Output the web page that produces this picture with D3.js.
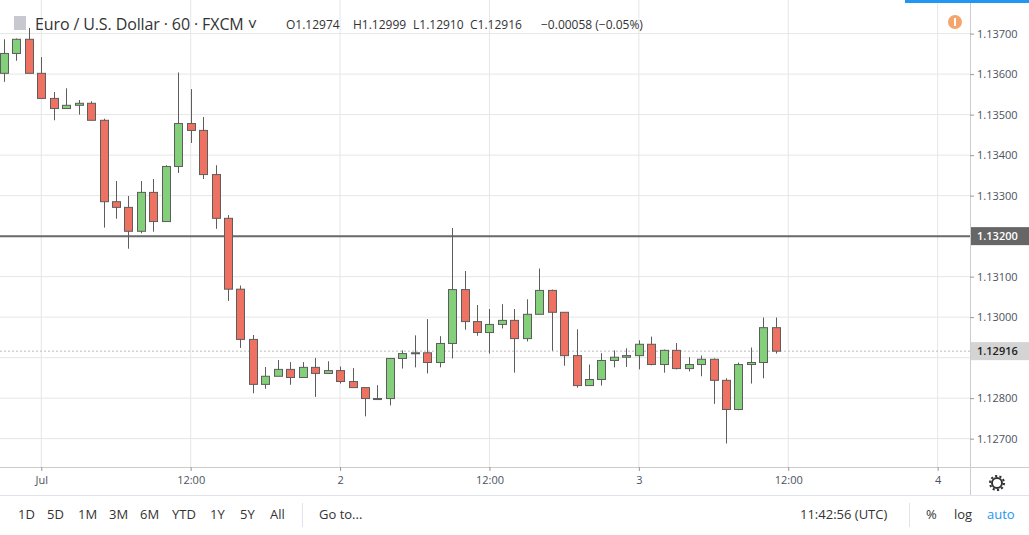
<!DOCTYPE html>
<html><head><meta charset="utf-8">
<script src="https://cdn.jsdelivr.net/npm/d3@7/dist/d3.min.js"></script>
<style>body{margin:0;background:#fff;font-family:"Open Sans",Roboto,sans-serif}</style>
</head><body><svg id="c" width="1029" height="535"></svg>
<script>
const hours = d3.range(-3, 60);
const opens  = [1.13602,1.13651,1.13686,1.13602,1.13540,1.13515,1.13523,1.13528,1.13486,1.13285,1.13271,1.13212,1.13308,1.13236,1.13372,1.13478,1.13461,1.13352,1.13244,1.13069,1.12945,1.12834,1.12854,1.12871,1.12851,1.12876,1.12861,1.12868,1.12841,1.12826,1.12799,1.12799,1.12898,1.12910,1.12912,1.12888,1.12935,1.13068,1.12989,1.12962,1.12982,1.12992,1.12947,1.13007,1.13066,1.13012,1.12905,1.12831,1.12846,1.12893,1.12901,1.12905,1.12933,1.12883,1.12918,1.12873,1.12883,1.12896,1.12844,1.12772,1.12883,1.12888,1.12974];
const highs  = [1.13686,1.13688,1.13714,1.13642,1.13556,1.13565,1.13536,1.13533,1.13490,1.13336,1.13299,1.13336,1.13341,1.13375,1.13604,1.13563,1.13494,1.13375,1.13252,1.13078,1.12956,1.12877,1.12894,1.12889,1.12889,1.12899,1.12891,1.12878,1.12874,1.12826,1.12832,1.12898,1.12918,1.12955,1.12995,1.12953,1.13220,1.13114,1.13030,1.13020,1.13032,1.13020,1.13044,1.13120,1.13068,1.13012,1.12970,1.12883,1.12911,1.12918,1.12923,1.12943,1.12952,1.12920,1.12936,1.12901,1.12905,1.12898,1.12849,1.12888,1.12925,1.12999,1.12999];
const lows   = [1.13581,1.13633,1.13602,1.13540,1.13486,1.13515,1.13500,1.13486,1.13221,1.13243,1.13169,1.13207,1.13211,1.13236,1.13356,1.13430,1.13341,1.13218,1.13040,1.12924,1.12812,1.12823,1.12854,1.12833,1.12851,1.12803,1.12861,1.12836,1.12826,1.12755,1.12797,1.12782,1.12873,1.12876,1.12861,1.12876,1.12898,1.12969,1.12954,1.12910,1.12972,1.12863,1.12940,1.13007,1.12917,1.12880,1.12826,1.12831,1.12831,1.12876,1.12877,1.12871,1.12881,1.12863,1.12871,1.12866,1.12854,1.12786,1.12688,1.12770,1.12836,1.12849,1.12910];
const closes = [1.13651,1.13686,1.13602,1.13540,1.13515,1.13523,1.13528,1.13486,1.13285,1.13271,1.13212,1.13308,1.13236,1.13372,1.13478,1.13461,1.13352,1.13244,1.13069,1.12945,1.12834,1.12854,1.12871,1.12851,1.12876,1.12861,1.12868,1.12841,1.12826,1.12799,1.12799,1.12898,1.12910,1.12912,1.12888,1.12935,1.13068,1.12989,1.12962,1.12982,1.12992,1.12947,1.13007,1.13066,1.13012,1.12905,1.12831,1.12846,1.12893,1.12901,1.12905,1.12933,1.12883,1.12918,1.12873,1.12883,1.12896,1.12844,1.12772,1.12883,1.12888,1.12974,1.12916];
const priceTicks = [1.127,1.128,1.129,1.130,1.131,1.132,1.133,1.134,1.135,1.136,1.137];
const timeTicks = [0,12,24,36,48,60,72];
const timeLabels = ["Jul","12:00","2","12:00","3","12:00","4"];
const levelLine = 1.132, lastPrice = 1.12916;
const periods = ["1D","5D","1M","3M","6M","YTD","1Y","5Y","All"];
const ohlc = ["O1.12974","H1.12999","L1.12910","C1.12916","−0.00058 (−0.05%)"];

const W=970,H=467;
const svg=d3.select("#c");
const x=d3.scaleLinear().domain([-3.315,74.6]).range([0,W]);
const y=d3.scaleLinear().domain([1.12630,1.13783]).range([H,0]);
const g=svg.append("g");
g.selectAll(".hg").data(priceTicks).join("line").attr("x1",0).attr("x2",W).attr("y1",d=>y(d)).attr("y2",d=>y(d)).attr("stroke","#e6e6e6");
g.selectAll(".vg").data(timeTicks).join("line").attr("y1",0).attr("y2",H).attr("x1",d=>x(d)).attr("x2",d=>x(d)).attr("stroke","#e6e6e6");
g.append("line").attr("x1",0).attr("x2",W).attr("y1",y(levelLine)).attr("y2",y(levelLine)).attr("stroke","#6a6a6a").attr("stroke-width",2);
g.append("line").attr("x1",0).attr("x2",W).attr("y1",y(lastPrice)).attr("y2",y(lastPrice)).attr("stroke","#bbb").attr("stroke-dasharray","2,2");
const data=hours.map((h,i)=>({h,o:opens[i],hi:highs[i],l:lows[i],c:closes[i]}));
const cg=g.selectAll(".cd").data(data).join("g");
cg.append("line").attr("x1",d=>Math.round(x(d.h))+0.5).attr("x2",d=>Math.round(x(d.h))+0.5).attr("y1",d=>y(d.hi)).attr("y2",d=>y(d.l)).attr("stroke","#5d5d5d");
cg.append("rect").attr("x",d=>Math.round(x(d.h))-3.5).attr("width",8)
 .attr("y",d=>y(Math.max(d.o,d.c))).attr("height",d=>Math.max(1,y(Math.min(d.o,d.c))-y(Math.max(d.o,d.c))))
 .attr("fill",d=>d.c>=d.o?"#84cf7a":"#ef7162").attr("stroke","#5d5d5d").attr("stroke-width",1);
svg.append("line").attr("x1",W+0.5).attr("x2",W+0.5).attr("y1",0).attr("y2",495).attr("stroke","#ccc");
svg.append("line").attr("x1",0).attr("x2",1029).attr("y1",H+0.5).attr("y2",H+0.5).attr("stroke","#ccc");
svg.append("line").attr("x1",0).attr("x2",1029).attr("y1",495.5).attr("y2",495.5).attr("stroke","#e0e3eb");
const ya=d3.axisRight(y).tickValues(priceTicks.filter(d=>Math.abs(d-1.132)>1e-6&&Math.abs(d-1.129)>1e-6)).tickFormat(d3.format(".5f")).tickSize(4);
const yg=svg.append("g").attr("transform",`translate(${W},0)`).call(ya);
yg.select(".domain").remove();
yg.selectAll("text").attr("font-size",11).attr("fill","#4c525e").attr("font-family","Open Sans");
yg.selectAll("line").attr("stroke","#999");
function tag(p,bg,fg){const yy=y(p);svg.append("rect").attr("x",W+1).attr("y",yy-9).attr("width",58).attr("height",18).attr("fill",bg);
 svg.append("text").attr("x",W+7).attr("y",yy+4).attr("font-size",11).attr("fill",fg).attr("font-weight",600).text(d3.format(".5f")(p));}
tag(levelLine,"#666","#fff");tag(lastPrice,"#d4d4d4","#222");
const xa=d3.axisBottom(x).tickValues(timeTicks).tickFormat((d,i)=>timeLabels[i]).tickSize(4);
const xg=svg.append("g").attr("transform",`translate(0,${H})`).call(xa);
xg.select(".domain").remove();
xg.selectAll("text").attr("font-size",11).attr("fill","#4c525e").attr("font-family","Open Sans").attr("dy","0.9em");
xg.selectAll("line").attr("stroke","#999");
svg.append("rect").attr("x",14).attr("y",16).attr("width",12).attr("height",14).attr("fill","#c8c8d0");
svg.append("text").attr("x",35).attr("y",30).attr("font-size",16).attr("fill","#333").attr("textLength",222).text("Euro / U.S. Dollar · 60 · FXCM ˅");
const ox=[286,353,413,470,541];
svg.selectAll(".oh").data(ohlc).join("text").attr("x",(d,i)=>ox[i]).attr("y",29).attr("font-size",12).attr("fill","#333").text(d=>d);
svg.append("rect").attr("x",905).attr("y",0).attr("width",124).attr("height",3).attr("fill","#2196f3");
svg.append("circle").attr("cx",955).attr("cy",22).attr("r",7).attr("fill","#f5a46c");
svg.append("rect").attr("x",954).attr("y",18).attr("width",2).attr("height",8).attr("fill","#fff");
svg.append("circle").attr("cx",997).attr("cy",483).attr("r",5).attr("fill","none").attr("stroke","#333").attr("stroke-width",2);
svg.append("circle").attr("cx",997).attr("cy",483).attr("r",7).attr("fill","none").attr("stroke","#333").attr("stroke-width",2).attr("stroke-dasharray","2.2,2.2");
const px=[18,47,78,109,140,172,210,240,270];
svg.selectAll(".pd").data(periods).join("text").attr("x",(d,i)=>px[i]).attr("y",519).attr("font-size",13).attr("fill","#333").text(d=>d);
svg.append("line").attr("x1",302.5).attr("x2",302.5).attr("y1",503).attr("y2",527).attr("stroke","#e0e3eb");
svg.append("text").attr("x",319).attr("y",519).attr("font-size",13).attr("fill","#333").text("Go to...");
svg.append("text").attr("x",800).attr("y",519).attr("font-size",13).attr("fill","#333").text("11:42:56 (UTC)");
svg.append("line").attr("x1",909.5).attr("x2",909.5).attr("y1",503).attr("y2",527).attr("stroke","#e0e3eb");
svg.append("text").attr("x",926).attr("y",519).attr("font-size",13).attr("fill","#333").text("%");
svg.append("text").attr("x",954).attr("y",519).attr("font-size",13).attr("fill","#333").text("log");
svg.append("text").attr("x",987).attr("y",519).attr("font-size",13).attr("fill","#2196f3").text("auto");
</script></body></html>
